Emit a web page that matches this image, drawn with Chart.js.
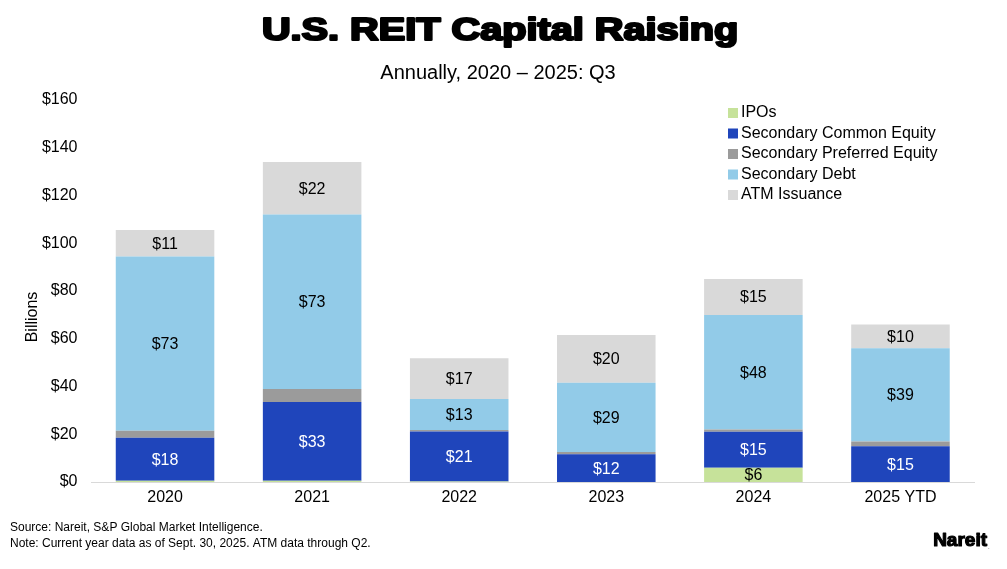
<!DOCTYPE html>
<html>
<head>
<meta charset="utf-8">
<script src="https://cdn.jsdelivr.net/npm/chart.js@4.4.1/dist/chart.umd.min.js"></script>
<style>
  html, body { margin: 0; padding: 0; background: #fff; }
  #wrap { width: 1007px; height: 569px; }
</style>
</head>
<body>
<div id="wrap"><canvas id="capChart" width="1007" height="569"></canvas></div>
<script>
var years = ['2020', '2021', '2022', '2023', '2024', '2025 YTD'];
var ipos = [0.5, 0.5, 0.2, 0, 6, 0];
var commonEquity = [18, 33, 21, 11.6, 15, 15];
var preferredEquity = [3, 5.5, 0.6, 1, 1, 2];
var secondaryDebt = [73, 73, 13, 29, 48, 39];
var atmIssuance = [11, 22, 17, 20, 15, 10];
var yTicks = [0, 20, 40, 60, 80, 100, 120, 140, 160];

var FONT = '"Liberation Sans", Arial, sans-serif';

// heavy text, stretched sideways (no Arial Black here)
function heavyText(ctx, text, x, y, size, sx, stroke) {
    ctx.save();
    ctx.translate(x, y);
    ctx.scale(sx, 1);
    ctx.font = 'bold ' + size + 'px ' + FONT;
    ctx.lineWidth = stroke;
    ctx.lineJoin = 'round';
    ctx.strokeStyle = '#000';
    ctx.strokeText(text, 0, 0);
    ctx.fillText(text, 0, 0);
    ctx.restore();
}

// draws titles, legend, segment values, footer
var decorPlugin = {
    id: 'decor',
    afterDatasetsDraw: function (chart) {
        var ctx = chart.ctx;
        ctx.save();
        ctx.textAlign = 'center';
        ctx.textBaseline = 'middle';
        ctx.font = '16px ' + FONT;
        chart.data.datasets.forEach(function (ds, i) {
            if (!ds.showValues) return;
            var meta = chart.getDatasetMeta(i);
            meta.data.forEach(function (bar, j) {
                var v = ds.data[j];
                if (v < 5) return;
                ctx.fillStyle = ds.valueColor;
                ctx.fillText('$' + Math.round(v), bar.x, (bar.y + bar.base) / 2 + 1);
            });
        });
        ctx.restore();
    },
    afterDraw: function (chart) {
        var ctx = chart.ctx;
        ctx.save();
        ctx.fillStyle = '#000';
        ctx.textAlign = 'center';
        ctx.textBaseline = 'middle';
        heavyText(ctx, 'U.S. REIT Capital Raising', 500, 31, 31, 1.28, 2.2);
        ctx.font = '20px ' + FONT;
        ctx.fillText('Annually, 2020 \u2013 2025: Q3', 498, 73);

        // y axis title
        ctx.save();
        ctx.translate(33, 317);
        ctx.rotate(-Math.PI / 2);
        ctx.font = '16px ' + FONT;
        ctx.fillText('Billions', 0, 0);
        ctx.restore();

        // legend, top to bottom in dataset order
        ctx.textAlign = 'left';
        ctx.font = '16px ' + FONT;
        chart.data.datasets.forEach(function (ds, i) {
            var y = 113 + i * 20.5;
            ctx.fillStyle = ds.backgroundColor;
            ctx.fillRect(728, y - 5, 10, 10);
            ctx.fillStyle = '#000';
            ctx.fillText(ds.label, 741, y);
        });

        // footer
        ctx.font = '12px ' + FONT;
        ctx.fillText('Source: Nareit, S&P Global Market Intelligence.', 10, 528);
        ctx.fillText('Note: Current year data as of Sept. 30, 2025. ATM data through Q2.', 10, 544);
        ctx.textAlign = 'right';
        heavyText(ctx, 'Nareit', 987, 541, 19, 1.0, 1.2);
        ctx.textAlign = 'left';
        ctx.font = '6px ' + FONT;
        ctx.fillText('.', 988, 547);
        ctx.restore();
    }
};

var ctx = document.getElementById('capChart').getContext('2d');
var capChart = new Chart(ctx, {
    type: 'bar',
    data: {
        labels: years,
        datasets: [
            { label: 'IPOs', data: ipos, backgroundColor: '#c6e29a', showValues: true, valueColor: '#000' },
            { label: 'Secondary Common Equity', data: commonEquity, backgroundColor: '#1f45bb', showValues: true, valueColor: '#fff' },
            { label: 'Secondary Preferred Equity', data: preferredEquity, backgroundColor: '#9b9b9b', showValues: false },
            { label: 'Secondary Debt', data: secondaryDebt, backgroundColor: '#92cbe8', showValues: true, valueColor: '#000' },
            { label: 'ATM Issuance', data: atmIssuance, backgroundColor: '#d9d9d9', showValues: true, valueColor: '#000' }
        ]
    },
    options: {
        responsive: false,
        animation: false,
        layout: { padding: { top: 100, right: 33, bottom: 57, left: 0 } },
        plugins: {
            legend: { display: false },
            tooltip: { enabled: false }
        },
        datasets: {
            bar: { barPercentage: 0.67, categoryPercentage: 1.0, borderWidth: 0 }
        },
        scales: {
            x: {
                stacked: true,
                grid: { display: false, drawTicks: false },
                border: { display: true, color: '#d9d9d9', width: 1 },
                ticks: { color: '#000', font: { family: FONT, size: 16 }, padding: 6 },
                afterFit: function (scale) { scale.height = 30; }
            },
            y: {
                stacked: true,
                min: 0,
                max: 160,
                grid: { display: false, drawTicks: false },
                border: { display: false },
                afterBuildTicks: function (scale) {
                    scale.ticks = yTicks.map(function (v) { return { value: v }; });
                },
                ticks: {
                    color: '#000',
                    font: { family: FONT, size: 16 },
                    padding: 14,
                    callback: function (v) { return '$' + v; }
                },
                afterFit: function (scale) { scale.width = 91.5; }
            }
        }
    },
    plugins: [decorPlugin]
});
</script>
</body>
</html>
